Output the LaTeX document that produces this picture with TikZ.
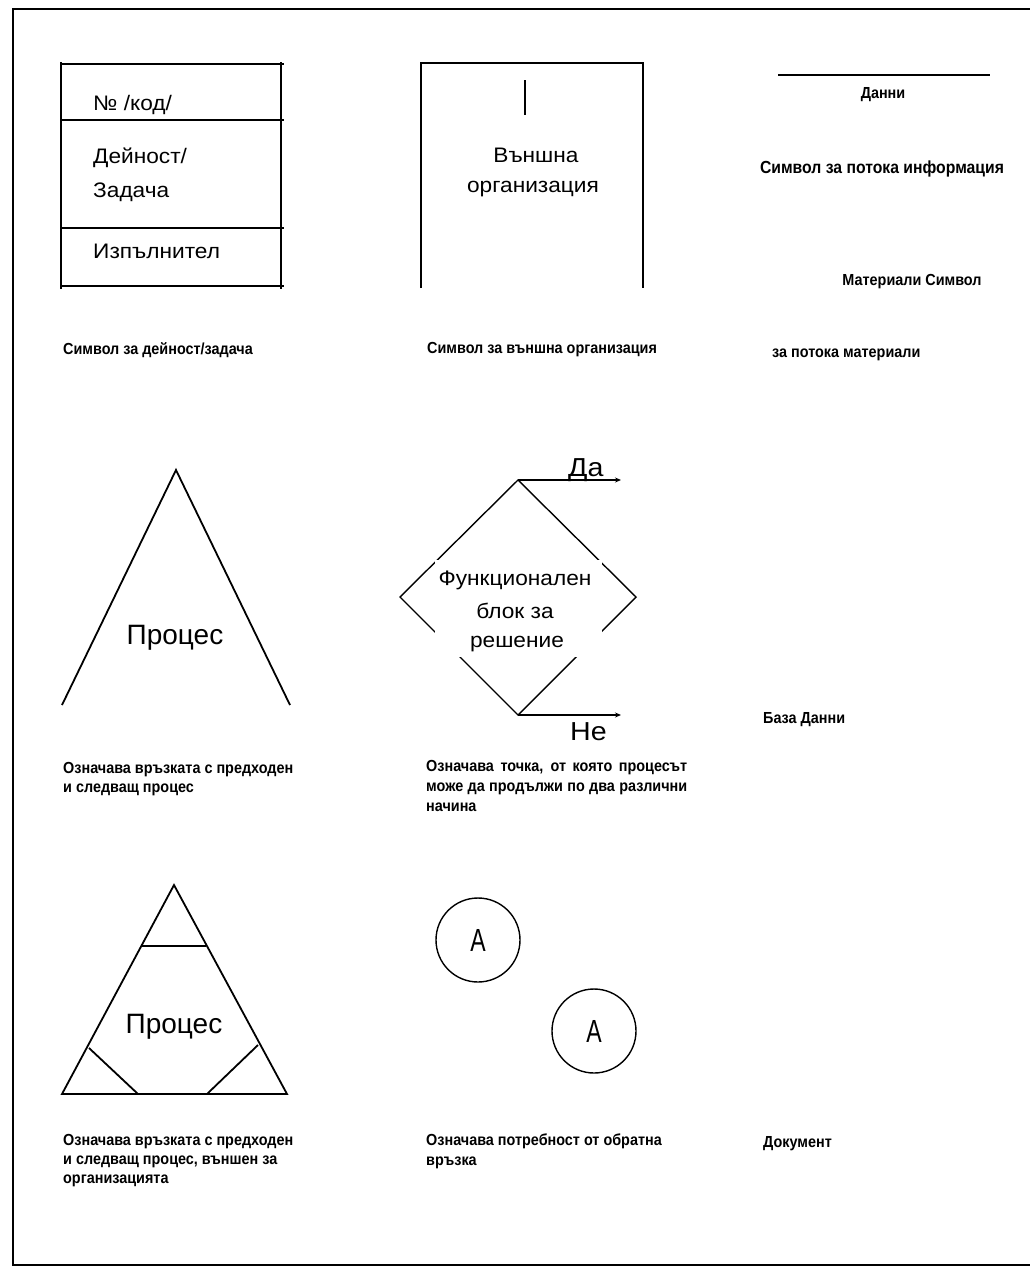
\documentclass[tikz,border=0pt]{standalone}
\usepackage{fontspec}
\setmainfont{Liberation Sans}
\newfontfamily\capfont[FakeStretch=0.9]{Liberation Sans}
\newfontfamily\lblfont[FakeStretch=1.08]{Liberation Sans}
\newfontfamily\yesnofont[FakeStretch=1.1]{Liberation Sans}
\newfontfamily\afont[FakeStretch=0.72]{Liberation Sans}
\usetikzlibrary{arrows.meta}
\tikzset{
  frame/.style={line width=2.2pt},
  thinline/.style={line width=1.4pt},
  shapeline/.style={line width=1.8pt},
  captxt/.style={anchor=base west, inner sep=0pt, font=\capfont\bfseries\fontsize{16}{19}\selectfont},
  captxtc/.style={captxt, anchor=base},
  lbl/.style={anchor=base west, inner sep=0pt, font=\lblfont\fontsize{21}{24}\selectfont},
  lblc/.style={lbl, anchor=base},
  big/.style={anchor=base, inner sep=0pt, font=\fontsize{28}{32}\selectfont},
  yesno/.style={anchor=base west, inner sep=0pt, font=\yesnofont\fontsize{26}{28}\selectfont},
  conn/.style={line width=1.4pt, -{Stealth[length=6pt,width=5pt]}},
  circ/.style={circle, draw, line width=1.4pt, minimum size=84pt, inner sep=0pt, font=\afont\fontsize{32}{34}\selectfont}
}
\begin{document}
\begin{tikzpicture}[x=1pt,y=-1pt]
\useasboundingbox (0,0) rectangle (1030,1274);
% frame
\draw[frame] (1030,9) -- (13,9) -- (13,1265) -- (1030,1265);

% ---- activity box
\draw[thinline] (61,62) -- (61,289);
\draw[thinline] (281,62) -- (281,289);
\foreach \yy in {64,120,228,286} \draw[thinline] (60,\yy) -- (284,\yy);
\node[lbl] (kod) at (93,110) {№ /код/};
\node[lbl] (dein) at (93,163) {Дейност/};
\node[lbl] (zad) at (93,197) {Задача};
\node[lbl] (izp) at (93,258) {Изпълнител};
\node[captxt] (c1) at (63,354) {Символ за дейност/задача};

% ---- external organisation
\draw[thinline] (421,288) -- (421,63) -- (643,63) -- (643,288);
\draw[thinline] (525,80) -- (525,115);
\node[lblc] (vn) at (536,162) {Външна};
\node[lblc] (org) at (533,192) {организация};
\node[captxt] (c2) at (427,353) {Символ за външна организация};

% ---- flows
\draw[thinline] (778,75) -- (990,75);
\node[captxtc] (dan) at (883,98) {Данни};
\node[captxtc, font=\capfont\bfseries\fontsize{17.5}{19}\selectfont] (sinf) at (882,173) {Символ за потока информация};
\node[captxtc] (mat) at (912,285) {Материали Символ};
\node[captxt] (pmat) at (772,357) {за потока материали};

% ---- process triangle
\draw[shapeline] (62,705) -- (176,470) -- (290,705);
\node[big] (pr1) at (175,644) {Процес};
\node[captxt] (c3a) at (63,773) {Означава връзката с предходен};
\node[captxt] (c3b) at (63,792) {и следващ процес};

% ---- decision diamond
\coordinate (dtop) at (518,480);
\coordinate (dbot) at (518,715);
\coordinate (dyes) at (621,480);
\coordinate (dno) at (621,715);
\draw[thinline] (dtop) -- (636,597) -- (dbot) -- (400,597) -- cycle;
\fill[white] (435,560) rectangle (602,657);
\node[lblc] (f1) at (515,585) {Функционален};
\node[lblc] (f2) at (515,618) {блок за};
\node[lblc] (f3) at (517,647) {решение};
\draw[conn] (dtop) -- (dyes);
\draw[conn] (dbot) -- (dno);
\node[yesno] (da) at (568,476) {Да};
\node[yesno] (ne) at (570,740) {Не};
\node[captxt] (c4a) at (426,771) {\makebox[261pt][s]{Означава точка, от която процесът}};
\node[captxt] (c4b) at (426,791) {\makebox[261pt][s]{може да продължи по два различни}};
\node[captxt] (c4c) at (426,811) {начина};

\node[captxt] (bd) at (763,723) {База Данни};

% ---- external process triangle
\draw[shapeline] (62,1094) -- (174,885) -- (287,1094) -- cycle;
\draw[shapeline] (142,946) -- (206,946);
\draw[shapeline] (89,1048) -- (138,1094);
\draw[shapeline] (258,1045) -- (207,1094);
\node[big] (pr2) at (174,1033) {Процес};
\node[captxt] (c5a) at (63,1145) {Означава връзката с предходен};
\node[captxt] (c5b) at (63,1164) {и следващ процес, външен за};
\node[captxt] (c5c) at (63,1183) {организацията};

% ---- connectors A
\node[circ] (a1) at (478,940) {A};
\node[circ] (a2) at (594,1031) {A};
\node[captxt] (c6a) at (426,1145) {Означава потребност от обратна};
\node[captxt] (c6b) at (426,1165) {връзка};

\node[captxt] (doc) at (763,1147) {Документ};
\end{tikzpicture}
\end{document}
